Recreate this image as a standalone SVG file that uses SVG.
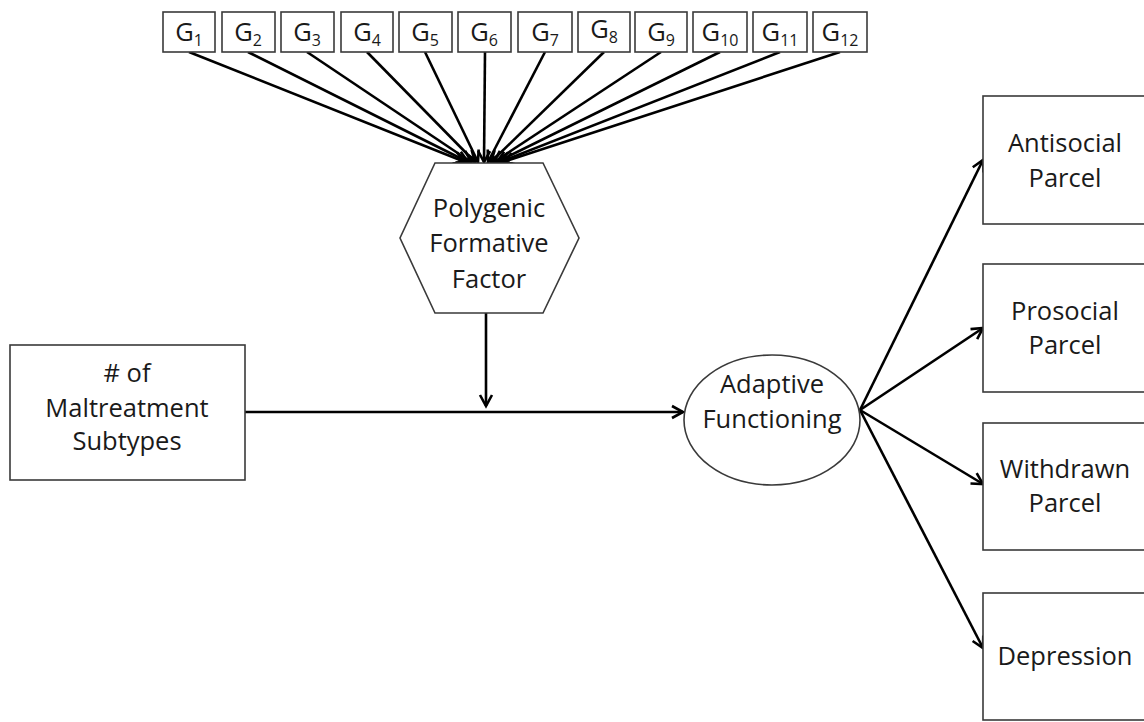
<svg xmlns="http://www.w3.org/2000/svg" width="1144" height="722" viewBox="0 0 1144 722">
<style>
.box{fill:#fff;stroke:#3a3a3a;stroke-width:1.6}
.t{font-family:"Open Sans",Lato,sans-serif;font-size:25.5px;fill:#1a1a1a;text-anchor:middle}
.sub{font-size:16px}
.ln{stroke:#000;stroke-width:2.6;fill:none}
.ar{marker-end:url(#arr)}
</style>
<defs>
<marker id="arr" markerUnits="userSpaceOnUse" markerWidth="18" markerHeight="18" viewBox="0 0 18 18" refX="15" refY="9" orient="auto">
<path d="M4,3 L15,9 L4,15" fill="none" stroke="#000" stroke-width="2.6"/>
</marker>
</defs>
<rect width="1144" height="722" fill="#fff"/>
<g id="connectors">
<line class="ln ar" x1="189" y1="52" x2="465" y2="162"/>
<line class="ln ar" x1="248" y1="52" x2="468" y2="162"/>
<line class="ln ar" x1="307" y1="52" x2="471" y2="162"/>
<line class="ln ar" x1="367" y1="52" x2="475" y2="162"/>
<line class="ln ar" x1="425" y1="52" x2="478" y2="162"/>
<line class="ln ar" x1="485" y1="52" x2="484" y2="162"/>
<line class="ln ar" x1="545" y1="52" x2="488" y2="162"/>
<line class="ln ar" x1="604" y1="52" x2="491" y2="162"/>
<line class="ln ar" x1="661" y1="52" x2="494" y2="162"/>
<line class="ln ar" x1="720" y1="52" x2="497" y2="162"/>
<line class="ln ar" x1="780" y1="52" x2="500" y2="162"/>
<line class="ln ar" x1="840" y1="52" x2="503" y2="162"/>
<line class="ln ar" x1="486" y1="313" x2="486" y2="406"/>
<line class="ln ar" x1="245" y1="412" x2="683" y2="412"/>
<line class="ln ar" x1="860" y1="410" x2="983" y2="160"/>
<line class="ln ar" x1="860" y1="410" x2="983" y2="328"/>
<line class="ln ar" x1="860" y1="410" x2="983" y2="484"/>
<line class="ln ar" x1="860" y1="410" x2="983" y2="648"/>
</g>
<g id="G1"><rect class="box" x="163" y="12" width="52" height="40"/><text class="t" x="189" y="41">G<tspan class="sub" dy="5">1</tspan></text></g>
<g id="G2"><rect class="box" x="222" y="12" width="53" height="40"/><text class="t" x="248" y="41">G<tspan class="sub" dy="5">2</tspan></text></g>
<g id="G3"><rect class="box" x="281" y="12" width="53" height="40"/><text class="t" x="307" y="41">G<tspan class="sub" dy="5">3</tspan></text></g>
<g id="G4"><rect class="box" x="341" y="12" width="52" height="40"/><text class="t" x="367" y="41">G<tspan class="sub" dy="5">4</tspan></text></g>
<g id="G5"><rect class="box" x="399" y="12" width="53" height="40"/><text class="t" x="425" y="41">G<tspan class="sub" dy="5">5</tspan></text></g>
<g id="G6"><rect class="box" x="458" y="12" width="53" height="40"/><text class="t" x="484" y="41">G<tspan class="sub" dy="5">6</tspan></text></g>
<g id="G7"><rect class="box" x="518" y="12" width="54" height="40"/><text class="t" x="545" y="41">G<tspan class="sub" dy="5">7</tspan></text></g>
<g id="G8"><rect class="box" x="578" y="12" width="52" height="40"/><text class="t" x="604" y="38">G<tspan class="sub" dy="5">8</tspan></text></g>
<g id="G9"><rect class="box" x="635" y="12" width="52" height="40"/><text class="t" x="661" y="41">G<tspan class="sub" dy="5">9</tspan></text></g>
<g id="G10"><rect class="box" x="693" y="12" width="54" height="40"/><text class="t" x="720" y="41">G<tspan class="sub" dy="5">10</tspan></text></g>
<g id="G11"><rect class="box" x="753" y="12" width="54" height="40"/><text class="t" x="780" y="41">G<tspan class="sub" dy="5">11</tspan></text></g>
<g id="G12"><rect class="box" x="813" y="12" width="54" height="40"/><text class="t" x="840" y="41">G<tspan class="sub" dy="5">12</tspan></text></g>
<g id="polygenic">
<polygon class="box" points="435,163 543,163 579,238 543,313 435,313 400,238"/>
<text class="t" x="489" y="217">Polygenic</text>
<text class="t" x="489" y="252">Formative</text>
<text class="t" x="489" y="288">Factor</text>
</g>
<g id="maltreatment">
<rect class="box" x="10" y="345" width="235" height="135"/>
<text class="t" x="127" y="382"># of</text>
<text class="t" x="127" y="417">Maltreatment</text>
<text class="t" x="127" y="450">Subtypes</text>
</g>
<g id="adaptive">
<ellipse class="box" cx="772" cy="420" rx="88" ry="65"/>
<text class="t" x="772" y="393">Adaptive</text>
<text class="t" x="772" y="428">Functioning</text>
</g>
<g id="antisocial">
<rect class="box" x="983" y="96" width="165" height="128"/>
<text class="t" x="1065" y="152">Antisocial</text>
<text class="t" x="1065" y="187">Parcel</text>
</g>
<g id="prosocial">
<rect class="box" x="983" y="264" width="165" height="128"/>
<text class="t" x="1065" y="320">Prosocial</text>
<text class="t" x="1065" y="354">Parcel</text>
</g>
<g id="withdrawn">
<rect class="box" x="983" y="423" width="165" height="127"/>
<text class="t" x="1065" y="478">Withdrawn</text>
<text class="t" x="1065" y="512">Parcel</text>
</g>
<g id="depression">
<rect class="box" x="983" y="593" width="165" height="127"/>
<text class="t" x="1065" y="665">Depression</text>
</g>
</svg>
